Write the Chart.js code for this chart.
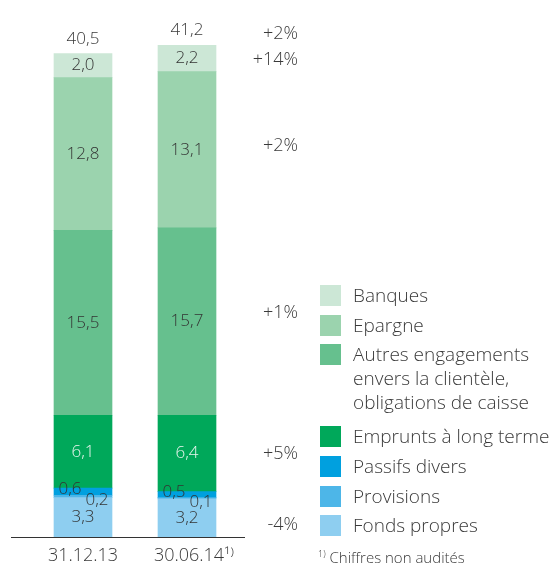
<!DOCTYPE html>
<html>
<head>
<meta charset="utf-8">
<script src="https://cdn.jsdelivr.net/npm/chart.js@4"></script>
<style>
  body { margin: 0; background: #fff; font-family: "Open Sans", Lato, sans-serif; color: #3a3a3a; }
  #wrap { position: relative; width: 559px; height: 568px; }
  #chart { position: absolute; left: 0; top: 0; }
  .leg { position: absolute; left: 320px; font-size: 19px; font-weight: 300; line-height: 24px; }
  .leg i { position: absolute; left: 0; top: 1px; width: 21px; height: 21px; }
  .leg span { position: absolute; left: 33px; top: -1px; white-space: nowrap; }
  #note { position: absolute; left: 318px; top: 547px; font-size: 15px; font-weight: 300; }
  #note sup { font-size: 9px; }
</style>
</head>
<body>
<div id="wrap">
  <canvas id="chart" width="559" height="568"></canvas>
  <div id="legend"></div>
  <div id="note"><sup>1)</sup> Chiffres non audités</div>
</div>
<script>
const categories = ["31.12.13", "30.06.14\u00B9\u207E"];
const seriesNames = ["Fonds propres", "Provisions", "Passifs divers", "Emprunts à long terme",
    "Autres engagements envers la clientèle, obligations de caisse", "Epargne", "Banques"];
const fondsPropres = [3.3, 3.2];
const provisions = [0.2, 0.1];
const passifsDivers = [0.6, 0.5];
const emprunts = [6.1, 6.4];
const autresEngagements = [15.5, 15.7];
const epargne = [12.8, 13.1];
const banques = [2.0, 2.2];
const totals = [40.5, 41.2];
const changes = ["-4%", "", "", "+5%", "+1%", "+2%", "+14%"];
const totalChange = "+2%";

const colors = ["#8ecef0", "#4db6e8", "#00a0df", "#00a85a", "#66c08e", "#9bd3ae", "#cce7d6"];
const labelColors = ["#333", "#333", "#333", "#e8f5ee", "#333", "#333", "#333"];
const values = [fondsPropres, provisions, passifsDivers, emprunts, autresEngagements, epargne, banques];

const fmt = v => v.toFixed(1).replace(".", ",");
const FONT = "'Open Sans', Lato, sans-serif";

// legend in HTML, top to bottom
const legendTops = [284, 314, 343, 425, 455, 485, 514];
const legendText = ["Fonds propres", "Provisions", "Passifs divers", "Emprunts à long terme",
    "Autres engagements<br>envers la clientèle,<br>obligations de caisse", "Epargne", "Banques"];
const legendEl = document.getElementById("legend");
for (let i = seriesNames.length - 1; i >= 0; i--) {
    const d = document.createElement("div");
    d.className = "leg";
    d.style.top = legendTops[seriesNames.length - 1 - i] + "px";
    d.innerHTML = '<i style="background:' + colors[i] + '"></i><span>' + legendText[i] + "</span>";
    legendEl.appendChild(d);
}

const annotate = {
    id: "annotate",
    afterDatasetsDraw(chart) {
        const ctx = chart.ctx;
        const y = chart.scales.y;
        const x = chart.scales.x;
        ctx.save();
        ctx.textAlign = "center";
        ctx.textBaseline = "middle";
        chart.data.datasets.forEach((ds, i) => {
            const meta = chart.getDatasetMeta(i);
            ctx.font = "300 17px " + FONT;
            meta.data.forEach((bar, j) => {
                const mid = (bar.y + bar.base) / 2;
                let bx = bar.x, yy = mid;
                if (i === 2) { bx = bar.x - 13; yy = bar.y + 1; }
                if (i === 1) { bx = bar.x + 14; yy = bar.base + 3; }
                ctx.fillStyle = labelColors[i];
                ctx.fillText(fmt(ds.data[j]), bx, yy);
            });
            // change label, right of the bars
            if (changes[i]) {
                const bar = meta.data[1];
                ctx.save();
                ctx.font = "300 18px " + FONT;
                ctx.textAlign = "right";
                ctx.fillStyle = "#3a3a3a";
                let yy = (bar.y + bar.base) / 2;
                if (i === 4) yy -= 9;
                if (i === 5) yy -= 4;
                if (i === 6) yy = bar.y + 15;
                if (i === 0) yy += 7;
                ctx.fillText(changes[i], 298, yy);
                ctx.restore();
            }
        });
        // totals
        ctx.font = "300 17px " + FONT;
        const top = chart.getDatasetMeta(chart.data.datasets.length - 1).data;
        top.forEach((bar, j) => {
            ctx.fillStyle = "#3a3a3a";
            ctx.fillText(fmt(totals[j]), bar.x, y.getPixelForValue(totals[j]) - 15);
        });
        ctx.font = "300 18px " + FONT;
        ctx.textAlign = "right";
        ctx.fillText(totalChange, 298, y.getPixelForValue(totals[1]) - 11);
        // axis line and category labels
        const base = y.getPixelForValue(0);
        ctx.strokeStyle = "#333";
        ctx.lineWidth = 1;
        ctx.beginPath();
        ctx.moveTo(11, Math.round(base) + 0.5);
        ctx.lineTo(245, Math.round(base) + 0.5);
        ctx.stroke();
        ctx.font = "300 18px " + FONT;
        ctx.textAlign = "center";
        categories.forEach((c, j) => {
            ctx.fillText(c, x.getPixelForValue(j) + (j === 1 ? 7 : 0), base + 19);
        });
        ctx.restore();
    }
};

new Chart(document.getElementById("chart"), {
    type: "bar",
    data: {
        labels: categories,
        datasets: values.map((v, i) => ({
            label: seriesNames[i],
            data: v,
            backgroundColor: colors[i],
            borderWidth: 0,
            barThickness: 58
        }))
    },
    options: {
        responsive: false,
        animation: false,
        layout: { padding: { left: 31, right: 320, top: 0, bottom: 31 } },
        plugins: { legend: { display: false }, tooltip: { enabled: false } },
        scales: {
            x: { stacked: true, display: false },
            y: { stacked: true, display: false, min: 0, max: 45 }
        }
    },
    plugins: [annotate]
});
</script>
</body>
</html>
